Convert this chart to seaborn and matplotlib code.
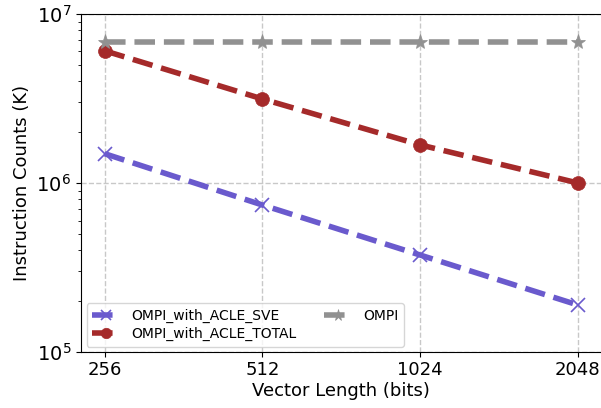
import numpy as np
import pandas as pd
import matplotlib
matplotlib.use('Agg')
import matplotlib.pyplot as plt
import matplotlib.ticker as mticker
import seaborn as sns

vector_length = [256, 512, 1024, 2048]
ompi_sve = [1.49e6, 7.41e5, 3.75e5, 1.90e5]
ompi_total = [6.05e6, 3.14e6, 1.68e6, 1.0e6]
ompi = [6.82e6, 6.82e6, 6.82e6, 6.82e6]

series_names = ['OMPI_with_ACLE_SVE', 'OMPI_with_ACLE_TOTAL', 'OMPI']
series_vals = [ompi_sve, ompi_total, ompi]
colors = ['#6a5acd', '#a52a2a', '#919191']
markers = ['x', 'o', '*']
msizes = [10, 10, 11]

plt.rcParams['font.family'] = ['DejaVu Sans']

fig = plt.figure(figsize=(6.01, 4.08), dpi=100)
ax = fig.add_axes([0.1348, 0.137, 0.866, 0.829])

for name, vals, c, m, ms in zip(series_names, series_vals, colors, markers, msizes):
    df = pd.DataFrame({'vl': vector_length, 'count': vals})
    sns.lineplot(data=df, x='vl', y='count', ax=ax, color=c, marker=m,
                 markersize=ms, linewidth=4, linestyle='--', label=name,
                 markeredgewidth=1.2 if m == 'x' else 0.5, markeredgecolor=c)

ax.set_xscale('log', base=2)
ax.set_yscale('log')
ax.set_ylim(1e5, 1e7)
ax.set_xticks(vector_length)
ax.set_xticklabels([str(v) for v in vector_length])
ax.xaxis.set_minor_locator(mticker.NullLocator())
ax.yaxis.set_minor_formatter(mticker.NullFormatter())
ax.spines['right'].set_visible(False)
ax.tick_params(axis='x', labelsize=13, pad=3)
ax.tick_params(axis='y', labelsize=14)
ax.grid(True, which='major', linestyle='--', color='#c8c8c8', linewidth=1)
ax.set_xlabel('Vector Length (bits)', fontsize=13, labelpad=2)
ax.set_ylabel('Instruction Counts (K)', fontsize=13)

ax.legend(loc='lower left', ncol=2, fontsize=10, frameon=True,
          borderaxespad=0.4, markerscale=0.75, labelspacing=0.3)

fig.savefig('out.png', dpi=100)
